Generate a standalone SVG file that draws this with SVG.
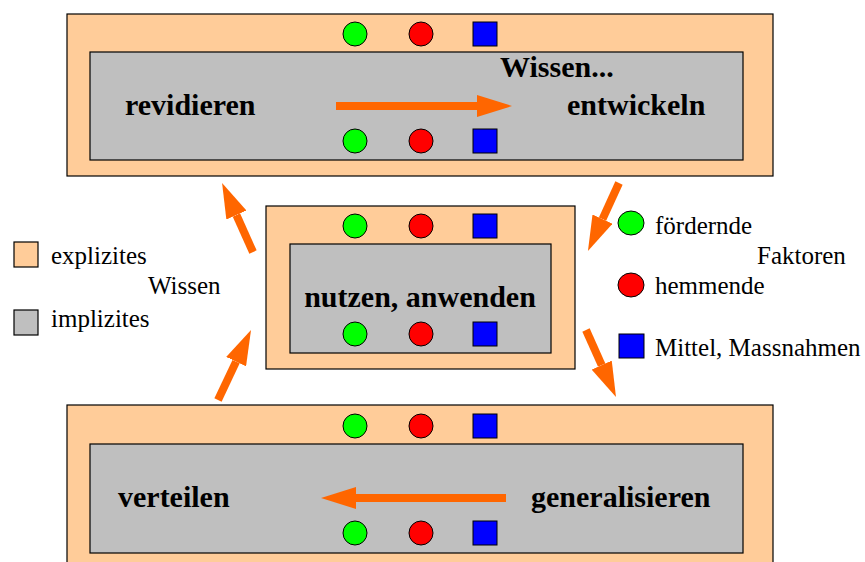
<svg xmlns="http://www.w3.org/2000/svg" width="865" height="562" viewBox="0 0 865 562">
<defs>
<style>
.outer{fill:#FFCC99;stroke:#000;stroke-width:1.2}
.inner{fill:#BFBFBF;stroke:#000;stroke-width:1.2}
.g{fill:#00FF00;stroke:#000;stroke-width:1}
.r{fill:#FF0000;stroke:#000;stroke-width:1}
.b{fill:#0000FF;stroke:#000;stroke-width:1}
.big{font-family:"Liberation Serif","Times New Roman",serif;font-weight:bold;font-size:30px;fill:#000}
.leg{font-family:"Liberation Serif","Times New Roman",serif;font-size:25px;fill:#000}
.arr{stroke:#FF6600;stroke-width:8;fill:none;marker-end:url(#ah)}
</style>
<marker id="ah" markerUnits="userSpaceOnUse" markerWidth="35" markerHeight="22" refX="0" refY="11" orient="auto" viewBox="0 0 35 22">
<path d="M0,0 L35,11 L0,22 Z" fill="#FF6600"/>
</marker>
</defs>

<g id="box-top">
<rect class="outer" x="67" y="14" width="706" height="162"/>
<rect class="inner" x="90" y="52" width="653" height="108"/>
<ellipse class="g" cx="355" cy="34" rx="12" ry="12"/>
<ellipse class="r" cx="421" cy="34" rx="12" ry="12"/>
<rect class="b" x="473" y="22" width="24" height="24"/>
<ellipse class="g" cx="355" cy="141" rx="12" ry="12"/>
<ellipse class="r" cx="421" cy="141" rx="12" ry="12"/>
<rect class="b" x="473" y="129" width="24" height="24"/>
<text class="big" x="125" y="115">revidieren</text>
<text class="big" x="500" y="77">Wissen...</text>
<text class="big" x="567" y="115">entwickeln</text>
</g>

<g id="box-middle">
<rect class="outer" x="266" y="206" width="309" height="163"/>
<rect class="inner" x="290" y="244" width="261" height="109"/>
<ellipse class="g" cx="355" cy="226" rx="12" ry="12"/>
<ellipse class="r" cx="421" cy="226" rx="12" ry="12"/>
<rect class="b" x="473" y="214" width="24" height="24"/>
<ellipse class="g" cx="355" cy="334" rx="12" ry="12"/>
<ellipse class="r" cx="421" cy="334" rx="12" ry="12"/>
<rect class="b" x="473" y="322" width="24" height="24"/>
<text class="big" x="420" y="307" text-anchor="middle">nutzen, anwenden</text>
</g>

<g id="box-bottom">
<rect class="outer" x="67" y="405" width="706" height="170"/>
<rect class="inner" x="90" y="444" width="653" height="109"/>
<ellipse class="g" cx="355" cy="426" rx="12" ry="12"/>
<ellipse class="r" cx="421" cy="426" rx="12" ry="12"/>
<rect class="b" x="473" y="414" width="24" height="24"/>
<ellipse class="g" cx="355" cy="533" rx="12" ry="12"/>
<ellipse class="r" cx="421" cy="533" rx="12" ry="12"/>
<rect class="b" x="473" y="521" width="24" height="24"/>
<text class="big" x="118" y="507">verteilen</text>
<text class="big" x="531" y="507">generalisieren</text>
</g>

<g id="legend-wissen">
<rect class="outer" x="14" y="242" width="24" height="25"/>
<text class="leg" x="51" y="264">explizites</text>
<text class="leg" x="148" y="294">Wissen</text>
<rect class="inner" x="14" y="310" width="24" height="25"/>
<text class="leg" x="51" y="327">implizites</text>
</g>

<g id="legend-faktoren">
<ellipse class="g" cx="631" cy="223" rx="13" ry="12"/>
<text class="leg" x="655" y="234">fördernde</text>
<text class="leg" x="757" y="264">Faktoren</text>
<ellipse class="r" cx="631" cy="285" rx="13" ry="12"/>
<text class="leg" x="655" y="294">hemmende</text>
<rect class="b" x="619" y="334" width="25" height="24"/>
<text class="leg" x="655" y="356">Mittel, Massnahmen</text>
</g>

<g id="connectors">
<line class="arr" x1="336" y1="106" x2="477" y2="106"/>
<line class="arr" x1="506" y1="498" x2="356" y2="498"/>
<line class="arr" x1="253" y1="252" x2="236.4" y2="215"/>
<line class="arr" x1="619" y1="183" x2="602.5" y2="219.1"/>
<line class="arr" x1="218" y1="400" x2="236.1" y2="361.6"/>
<line class="arr" x1="586" y1="330" x2="601.7" y2="365.1"/>
</g>
</svg>
